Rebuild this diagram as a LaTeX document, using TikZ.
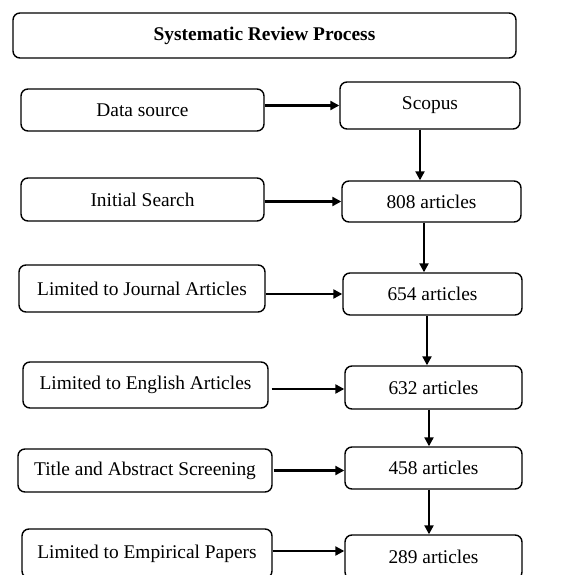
\documentclass[tikz,border=0pt]{standalone}
\usepackage{fontspec}
\setmainfont{Liberation Serif}
\usetikzlibrary{arrows.meta}
\begin{document}
\begin{tikzpicture}[x=1pt,y=-1pt,
  box/.style={draw, line width=1.4pt, rounded corners=7pt, inner sep=0pt,
    font=\fontsize{19.4}{23}\selectfont, align=center},
  arr/.style={line width=2.2pt, -{Triangle[length=9pt,width=9pt]}}]
\useasboundingbox (0,0) rectangle (587,575);

% header
\node[box, minimum width=503pt, minimum height=45pt, font=\fontsize{19.4}{23}\selectfont\bfseries]
  (title) at (264.5,35.5) {Systematic Review Process};

% left column: process steps
\node[box, minimum width=243pt, minimum height=42pt] (ds) at (142.5,110)   {Data source};
\node[box, minimum width=243pt, minimum height=43pt] (is) at (142.5,199.5) {Initial Search};
\node[box, minimum width=246pt, minimum height=47pt] (ja) at (142,288.5)   {Limited to Journal Articles};
\node[box, minimum width=245pt, minimum height=46pt] (ea) at (145.5,385)   {Limited to English Articles};
\node[box, minimum width=254pt, minimum height=43pt] (ta) at (145,470.5)   {Title and Abstract Screening};
\node[box, minimum width=250pt, minimum height=49pt] (ep) at (147,553.5)   {Limited to Empirical Papers};

% right column: results
\node[box, minimum width=180pt, minimum height=47pt] (sc)   at (430,105.5)   {Scopus};
\node[box, minimum width=179pt, minimum height=41pt] (n808) at (431.5,201.5) {808 articles};
\node[box, minimum width=179pt, minimum height=42pt] (n654) at (432.5,294)   {654 articles};
\node[box, minimum width=177pt, minimum height=43pt] (n632) at (433.5,387.5) {632 articles};
\node[box, minimum width=177pt, minimum height=42pt] (n458) at (433.5,468)   {458 articles};
\node[box, minimum width=177pt, minimum height=44pt] (n289) at (433.5,557)   {289 articles};

% step -> result
\draw[arr] (ds.east |- sc.west)   -- (sc.west);
\draw[arr] (is.east |- n808.west) -- (n808.west);
\draw[arr] (ja.east |- n654.west) -- (n654.west);
\draw[arr] ([xshift=3pt]ea.east |- 0,389) -- (n632.west |- 0,389);
\draw[arr] ([xshift=1pt]ta.east) -- (n458.west |- ta.east);
\draw[arr] (ep.east |- 0,551) -- (n289.west |- 0,551);

% result -> result
\draw[arr] ([xshift=-10pt]sc.south)    -- ([xshift=-10pt]sc.south |- n808.north);
\draw[arr] ([xshift=-7.5pt]n808.south) -- ([xshift=-7.5pt]n808.south |- n654.north);
\draw[arr] ([xshift=-5.5pt]n654.south) -- ([xshift=-5.5pt]n654.south |- n632.north);
\draw[arr] ([xshift=-4.5pt]n632.south) -- ([xshift=-4.5pt]n632.south |- n458.north);
\draw[arr] ([xshift=-4.5pt]n458.south) -- ([xshift=-4.5pt]n458.south |- n289.north);
\end{tikzpicture}
\end{document}
